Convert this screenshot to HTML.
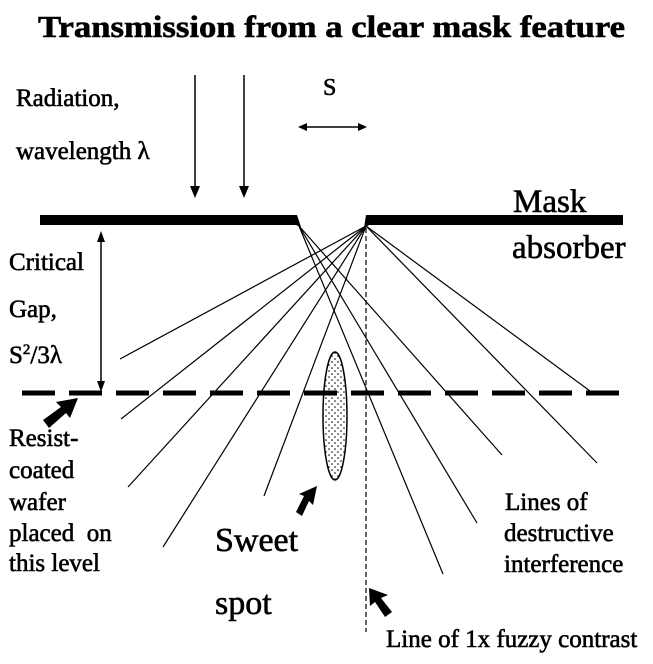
<!DOCTYPE html>
<html><head><meta charset="utf-8"><style>
html,body{margin:0;padding:0;background:#fff;}
svg{display:block;}
text{font-family:"Liberation Serif","Times New Roman",serif;fill:#000;stroke:#000;stroke-width:0.6;}
</style></head><body>
<svg width="653" height="664" viewBox="0 0 653 664" xmlns="http://www.w3.org/2000/svg">
<defs>
<pattern id="dots" width="6" height="6" patternUnits="userSpaceOnUse"><circle cx="2" cy="2" r="0.8" fill="#000"/><circle cx="5" cy="5" r="0.8" fill="#000"/></pattern>
</defs>
<text x="38" y="37" font-size="31" font-weight="bold" textLength="587" lengthAdjust="spacingAndGlyphs" stroke-width="0.8">Transmission from a clear mask feature</text>
<line x1="195" y1="75" x2="195" y2="190" stroke="#000" stroke-width="1.5"/>
<path d="M190,186 L200,186 L195,198 Z"/>
<line x1="244" y1="75" x2="244" y2="190" stroke="#000" stroke-width="1.5"/>
<path d="M239,186 L249,186 L244,198 Z"/>
<text x="16" y="106" font-size="25">Radiation,</text>
<text x="16" y="159" font-size="25">wavelength λ</text>
<text x="323" y="95" font-size="24">S</text>
<line x1="304" y1="127" x2="360" y2="127" stroke="#000" stroke-width="1.5"/>
<path d="M298,127 L307,123 L307,131 Z"/><path d="M367,127 L358,123 L358,131 Z"/>
<path d="M40,215 L297,215 L301,227 L296,225 L40,225 Z" fill="#000"/>
<path d="M366,215 L623,215 L623,225 L369,225 L364,228 Z" fill="#000"/>
<text x="513" y="212" font-size="33">Mask</text>
<text x="512" y="258" font-size="33">absorber</text>
<g stroke="#000" stroke-width="1.2">
<line x1="366" y1="226" x2="120" y2="359"/>
<line x1="366" y1="226" x2="121" y2="419"/>
<line x1="366" y1="226" x2="128" y2="487"/>
<line x1="366" y1="226" x2="163" y2="547"/>
<line x1="366" y1="226" x2="264" y2="496"/>
<line x1="366" y1="226" x2="590" y2="391"/>
<line x1="366" y1="226" x2="597" y2="463"/>
<line x1="299" y1="226" x2="443" y2="574"/>
<line x1="299" y1="226" x2="477" y2="523"/>
<line x1="299" y1="226" x2="502" y2="455"/>
</g>
<line x1="101" y1="240" x2="101" y2="382" stroke="#000" stroke-width="1.5"/>
<path d="M97,242 L105,242 L101,231 Z"/><path d="M97,381 L105,381 L101,392 Z"/>
<text x="9" y="270" font-size="25">Critical</text>
<text x="9" y="317" font-size="25">Gap,</text>
<text x="9" y="363" font-size="25">S<tspan font-size="15" dy="-9">2</tspan><tspan dy="9">/3λ</tspan></text>
<line x1="22" y1="393" x2="623" y2="393" stroke="#000" stroke-width="5" stroke-dasharray="33,14"/>
<line x1="366" y1="228" x2="366" y2="632" stroke="#000" stroke-width="1.2" stroke-dasharray="5,3"/>
<ellipse cx="335" cy="416" rx="12" ry="64" fill="url(#dots)" stroke="#000" stroke-width="1.5"/>
<g fill="#000">
<path d="M43,420 L61,407 L56,402 L78,398 L70,418 L66,413 L49,428 Z"/>
<path d="M296,512 L304,496 L299,494 L317,486 L313,505 L309,501 L302,516 Z"/>
<path d="M369,588 L370,606 L375,602 L385,617 L392,612 L381,598 L388,595 Z"/>
</g>
<text x="9" y="446" font-size="25">Resist-</text>
<text x="9" y="478" font-size="25">coated</text>
<text x="9" y="510" font-size="25">wafer</text>
<text x="9" y="541" font-size="25" xml:space="preserve">placed  on</text>
<text x="9" y="571" font-size="25">this level</text>
<text x="215" y="551" font-size="34">Sweet</text>
<text x="215" y="614" font-size="34">spot</text>
<text x="505" y="510" font-size="25">Lines of</text>
<text x="504" y="541" font-size="25">destructive</text>
<text x="504" y="572" font-size="25">interference</text>
<text x="386" y="647" font-size="25">Line of 1x fuzzy contrast</text>
</svg>
</body></html>
